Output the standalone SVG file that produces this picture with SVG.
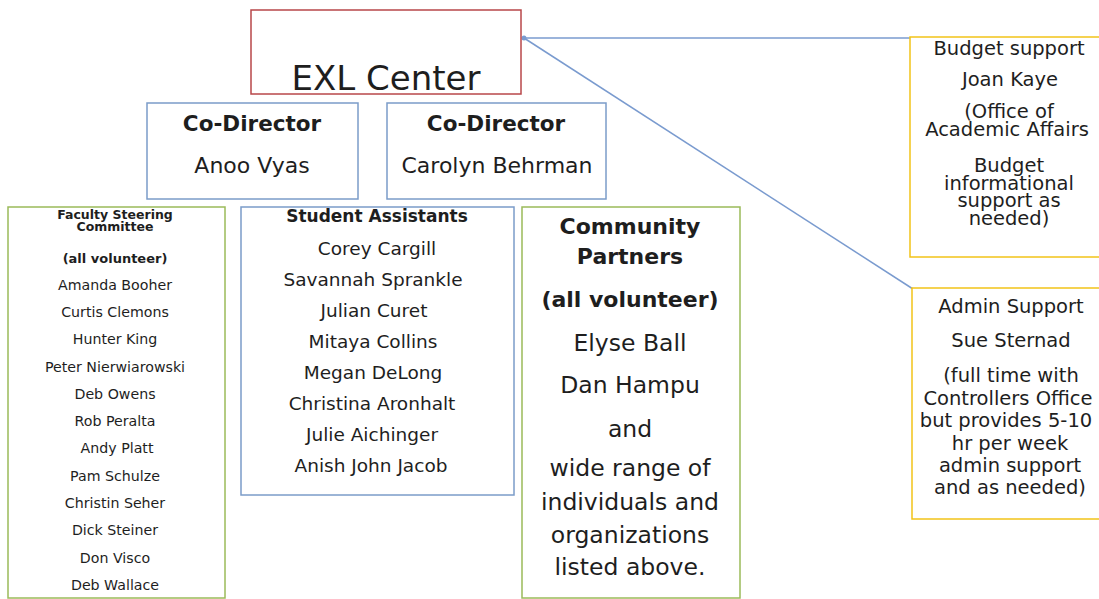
<svg xmlns="http://www.w3.org/2000/svg" width="1099" height="599" viewBox="0 0 1099 599">
<defs>
<style>
text{font-family:"DejaVu Sans","Liberation Sans",sans-serif;fill:#1e1e1e;text-anchor:middle}
.b{font-weight:bold}
.red{fill:#fff;stroke:#b8474a;stroke-width:1.5}
.blue{fill:#fff;stroke:#7b9cc9;stroke-width:1.5}
.green{fill:#fff;stroke:#9bbb59;stroke-width:1.5}
.yel{fill:#fff;stroke:#f2c318;stroke-width:1.5}
.con{stroke:#7a9bcf;stroke-width:1.5;fill:none}
.fs{font-size:14.2px}
.sn{font-size:18.5px}
.cp{font-size:23.5px}
.rb{font-size:19.5px}
</style>
</defs>
<rect width="1099" height="599" fill="#fff"/>
<g id="connectors">
<line class="con" x1="524" y1="38" x2="911" y2="38"/>
<line class="con" x1="524" y1="38" x2="913" y2="289"/>
<circle cx="524" cy="38" r="2.5" fill="#7a9bcf"/>
</g>
<g id="exl-center">
<rect class="red" x="251" y="10" width="270" height="84"/>
<text x="386" y="90" style="font-size:34px">EXL Center</text>
</g>
<g id="co-director-vyas">
<rect class="blue" x="147" y="103" width="211" height="96"/>
<text class="b" x="252" y="131" style="font-size:21.5px">Co-Director</text>
<text x="252" y="173" style="font-size:22px">Anoo Vyas</text>
</g>
<g id="co-director-behrman">
<rect class="blue" x="387" y="103" width="219" height="96"/>
<text class="b" x="496" y="131" style="font-size:21.5px">Co-Director</text>
<text x="497" y="173" style="font-size:22px">Carolyn Behrman</text>
</g>
<g id="faculty-steering">
<rect class="green" x="8" y="207" width="217" height="391"/>
<text class="b" x="115" y="219" style="font-size:12.5px">Faculty Steering</text>
<text class="b" x="115" y="231" style="font-size:12.5px">Committee</text>
<text class="b" x="115" y="263" style="font-size:13px">(all volunteer)</text>
<text class="fs" x="115" y="290">Amanda Booher</text>
<text class="fs" x="115" y="317">Curtis  Clemons</text>
<text class="fs" x="115" y="344">Hunter  King</text>
<text class="fs" x="115" y="372">Peter Nierwiarowski</text>
<text class="fs" x="115" y="399">Deb Owens</text>
<text class="fs" x="115" y="426">Rob Peralta</text>
<text class="fs" x="117" y="453">Andy Platt</text>
<text class="fs" x="115" y="481">Pam Schulze</text>
<text class="fs" x="115" y="508">Christin  Seher</text>
<text class="fs" x="115" y="535">Dick Steiner</text>
<text class="fs" x="115" y="563">Don Visco</text>
<text class="fs" x="115" y="590">Deb Wallace</text>
</g>
<g id="student-assistants">
<rect class="blue" x="241" y="207" width="273" height="288"/>
<text class="b" x="377" y="222" style="font-size:17px">Student Assistants</text>
<text class="sn" x="377" y="255">Corey Cargill</text>
<text class="sn" x="373" y="286">Savannah Sprankle</text>
<text class="sn" x="374" y="317">Julian Curet</text>
<text class="sn" x="373" y="348">Mitaya Collins</text>
<text class="sn" x="373" y="379">Megan DeLong</text>
<text class="sn" x="372" y="410">Christina Aronhalt</text>
<text class="sn" x="372" y="441">Julie Aichinger</text>
<text class="sn" x="371" y="472">Anish John Jacob</text>
</g>
<g id="community-partners">
<rect class="green" x="522" y="207" width="218" height="391"/>
<text class="b" x="630" y="234" style="font-size:22px">Community</text>
<text class="b" x="630" y="264" style="font-size:22px">Partners</text>
<text class="b" x="630" y="307" style="font-size:22px">(all volunteer)</text>
<text class="cp" x="630" y="351">Elyse Ball</text>
<text class="cp" x="630" y="393">Dan Hampu</text>
<text class="cp" x="630" y="437">and</text>
<text class="cp" x="630" y="476">wide range of</text>
<text class="cp" x="630" y="510">individuals and</text>
<text class="cp" x="630" y="543">organizations</text>
<text class="cp" x="630" y="575">listed above.</text>
</g>
<g id="budget-support">
<rect class="yel" x="910" y="37" width="200" height="220"/>
<text class="rb" x="1009" y="55">Budget support</text>
<text class="rb" x="1010" y="86">Joan Kaye</text>
<text class="rb" x="1009" y="118">(Office of</text>
<text class="rb" x="1007" y="136">Academic Affairs</text>
<text class="rb" x="1009" y="172">Budget</text>
<text class="rb" x="1009" y="190">informational</text>
<text class="rb" x="1009" y="207">support as</text>
<text class="rb" x="1009" y="225">needed)</text>
</g>
<g id="admin-support">
<rect class="yel" x="912" y="288" width="200" height="231"/>
<text class="rb" x="1011" y="313">Admin Support</text>
<text class="rb" x="1011" y="347">Sue Sternad</text>
<text class="rb" x="1011" y="382">(full time with</text>
<text class="rb" x="1008" y="405">Controllers Office</text>
<text class="rb" x="1006" y="427">but provides 5-10</text>
<text class="rb" x="1010" y="450">hr per week</text>
<text class="rb" x="1010" y="472">admin support</text>
<text class="rb" x="1010" y="494">and as needed)</text>
</g>
</svg>
